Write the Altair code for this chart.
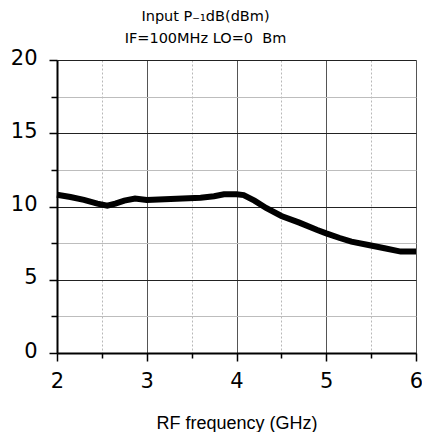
import altair as alt
import pandas as pd

freq = [2.0, 2.15, 2.3, 2.45, 2.56, 2.65, 2.75, 2.87, 3.0, 3.2, 3.4, 3.6, 3.75, 3.86,
        4.0, 4.08, 4.2, 4.33, 4.5, 4.7, 4.9, 5.0, 5.15, 5.28, 5.47, 5.65, 5.83, 6.0]
p1db = [10.8, 10.65, 10.45, 10.2, 10.05, 10.2, 10.4, 10.55, 10.45, 10.5, 10.55, 10.6, 10.7, 10.83,
        10.83, 10.78, 10.4, 9.9, 9.35, 8.9, 8.4, 8.17, 7.85, 7.6, 7.37, 7.15, 6.92, 6.92]

x_ticks = [2, 2.5, 3, 3.5, 4, 4.5, 5, 5.5, 6]
y_ticks = [0, 2.5, 5, 7.5, 10, 12.5, 15, 17.5, 20]

title_lines = ["Input P\u208b\u2081dB(dBm)", "IF=100MHz LO=0 \u00a0Bm"]
x_title = "RF frequency (GHz)"

df = pd.DataFrame({"f": freq, "v": p1db})

x_axis = alt.Axis(
    values=x_ticks,
    labelExpr="datum.value % 1 == 0 ? format(datum.value, 'd') : ''",
    labelFont="DejaVu Sans", labelFontSize=21, labelColor="black",
    labelPadding=9, labelFlush=False, labelOverlap=False,
    tickSize={"condition": {"test": "datum.value % 1 == 0", "value": 8}, "value": 5},
    tickColor="black", tickWidth=1.5,
    domainColor="black", domainWidth=2,
    grid=True,
    gridColor={"condition": {"test": "datum.value % 1 == 0", "value": "#555555"}, "value": "#b8b8b8"},
    gridDash={"condition": {"test": "datum.value % 1 == 0", "value": []}, "value": [2, 2]},
    gridWidth=1,
    title=x_title, titleFont="Liberation Sans", titleFontSize=18, titleFontWeight="normal",
    titleColor="black", titleBaseline="top", titleY=61,
)

y_axis = alt.Axis(
    values=y_ticks,
    labelExpr="datum.value % 5 == 0 ? format(datum.value, 'd') : ''",
    labelFont="DejaVu Sans", labelFontSize=21, labelColor="black",
    labelPadding=12, labelFlush=False, labelOverlap=False, labelOffset=-2,
    tickSize={"condition": {"test": "datum.value % 5 == 0", "value": 8}, "value": 6},
    tickColor="black", tickWidth=1.5,
    domainColor="black", domainWidth=2,
    grid=True,
    gridColor={"condition": {"test": "datum.value % 5 == 0", "value": "#222222"}, "value": "#bdbdbd"},
    gridWidth=1,
    title=None,
)

chart = alt.Chart(df).mark_line(color="black", strokeWidth=6).encode(
    x=alt.X("f:Q", scale=alt.Scale(domain=[2, 6], nice=False, zero=False), axis=x_axis),
    y=alt.Y("v:Q", scale=alt.Scale(domain=[0, 20], nice=False), axis=y_axis),
).properties(
    width=359,
    height=293,
    autosize=alt.AutoSizeParams(type="none"),
    padding={"left": 49, "top": 52, "right": 6, "bottom": 79},
    title=alt.TitleParams(
        text=title_lines, font="DejaVu Sans", fontSize=14.5, fontWeight="normal",
        color="black", lineHeight=22, anchor="middle", dx=-31, offset=1,
    ),
).configure_view(stroke="black", strokeWidth=1).configure(background="white")

chart.save("out.html", embed_options={"renderer": "svg", "actions": False})
